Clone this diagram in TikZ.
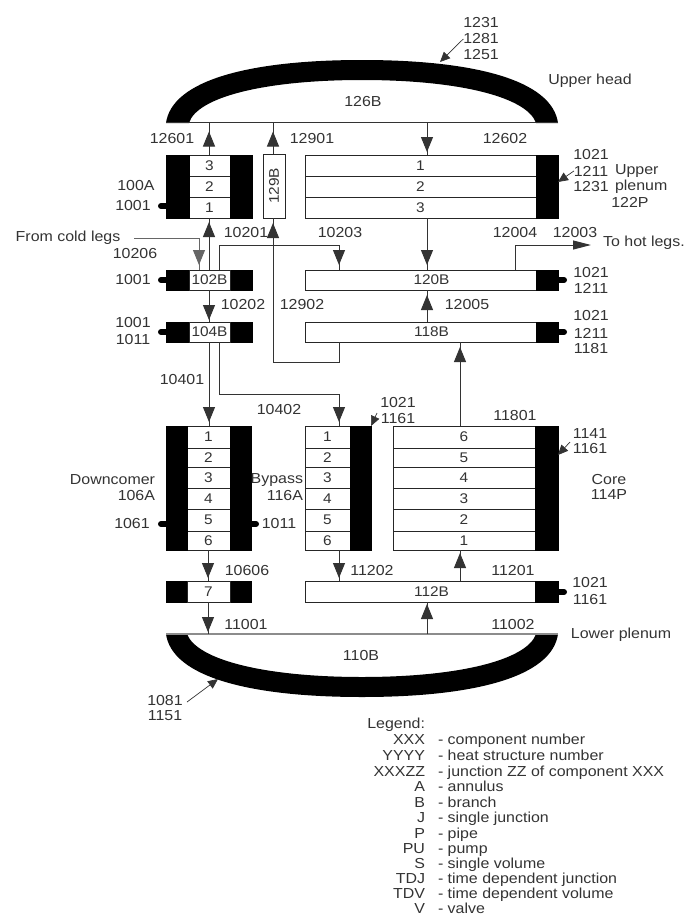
\documentclass[tikz,border=0pt]{standalone}
\usepackage{fontspec}
\setmainfont[FakeStretch=1.1]{Liberation Sans}
\usetikzlibrary{arrows.meta,decorations.markings}
\newcommand{\bx}[7]{%
  \pgfmathsetmacro\cxx{(#3+#5)/2}\pgfmathsetmacro\cyy{(#4+#6)/2}%
  \pgfmathsetmacro\ww{#5-#3}\pgfmathsetmacro\hh{#6-#4}%
  \node[#1,minimum width=\ww pt,minimum height=\hh pt] (#2) at (\cxx,\cyy) {#7};}
\tikzset{
  cell/.style={draw=black!85,line width=1pt,fill=white,inner sep=0pt,outer sep=0pt,font=\fontsize{14}{14}\selectfont,text=black!80},
  blk/.style={draw=black,fill=black,inner sep=0pt,outer sep=0pt,line width=0pt},
  lab/.style={inner sep=0pt,outer sep=0pt,font=\fontsize{14.5}{14.5}\selectfont,text=black!80},
  pipe/.style={draw=black!80,line width=1pt},
  flow/.style={pipe,postaction={decorate},decoration={markings,mark=at position #1 with {\arrow{Triangle[width=12pt,length=15pt]}}}},
  leader/.style={draw=black!80,line width=.7pt,-{Triangle[width=9pt,length=10pt]}},
  side/.style={draw=black,line width=6pt,line cap=round},
  head/.style={fill=black,draw=none},
}
\begin{document}
\begin{tikzpicture}[x=1pt,y=-1pt]
\useasboundingbox (0,0) rectangle (686,916);
% vessel heads
\fill[head] (166,123) .. controls (172,80) and (250,60) .. (362,60) .. controls (474,60) and (552,80) .. (558,123) -- (536,123) .. controls (527,97) and (459,80) .. (362,80) .. controls (265,80) and (197,97) .. (189,123) -- cycle;
\fill[head] (166,634) .. controls (172,677) and (250,697) .. (362,697) .. controls (474,697) and (552,677) .. (558,634) -- (536,634) .. controls (527,660) and (459,677) .. (362,677) .. controls (265,677) and (197,660) .. (187,634) -- cycle;
\coordinate (ltop) at (166,122.5);
\coordinate (rtop) at (558,122.5);
\coordinate (lbot) at (166,634);
\coordinate (rbot) at (558,634);
\draw[pipe] (ltop) -- (rtop);
\draw[draw=black!45,line width=1.6pt] (lbot) -- (rbot);
% channels
\coordinate (xa) at (209,0);
\coordinate (xc) at (273,0);
\coordinate (xd) at (339,0);
\coordinate (xe) at (427,0);
\coordinate (xf) at (460,0);
\coordinate (xg) at (515,0);
\coordinate (xi) at (208,0);
% 100A
\bx{cell}{a3}{189}{155}{230}{176}{3}
\bx{cell}{a2}{189}{176}{230}{197}{2}
\bx{cell}{a1}{189}{197}{230}{218}{1}
\bx{blk}{al}{166}{155}{189}{218}{}
\bx{blk}{ar}{230}{155}{252}{218}{}
% 129B
\bx{cell}{bb}{263}{154}{285}{218}{\rotatebox{90}{129B}}
% upper plenum
\bx{cell}{p1}{305}{155}{536}{176}{1}
\bx{cell}{p2}{305}{176}{536}{197}{2}
\bx{cell}{p3}{305}{197}{536}{218}{3}
\bx{blk}{pr}{536}{155}{558}{218}{}
% 102B 104B
\bx{blk}{cbl}{166}{270}{189}{290}{}
\bx{blk}{cbr}{230}{270}{252}{290}{}
\bx{cell}{c}{189}{270}{230}{290}{102B}
\bx{blk}{dl}{166}{322}{189}{342}{}
\bx{blk}{dr}{230}{322}{252}{342}{}
\bx{cell}{d}{189}{322}{230}{342}{104B}
% 120B 118B
\bx{cell}{e}{305}{270}{558}{290}{120B}
\bx{blk}{er}{536}{270}{558}{290}{}
\bx{cell}{f}{305}{322}{558}{342}{118B}
\bx{blk}{fr}{536}{322}{558}{342}{}
% downcomer
\bx{cell}{g1}{187}{426}{230}{448}{1}
\bx{cell}{g2}{187}{448}{230}{467}{2}
\bx{cell}{g3}{187}{467}{230}{488}{3}
\bx{cell}{g4}{187}{488}{230}{509}{4}
\bx{cell}{g5}{187}{509}{230}{531}{5}
\bx{cell}{g6}{187}{531}{230}{550}{6}
\bx{blk}{gl}{166}{426}{187}{550}{}
\bx{blk}{gr}{230}{426}{251}{550}{}
\bx{blk}{hl}{166}{581}{187}{602}{}
\bx{blk}{hr}{230}{581}{251}{602}{}
\bx{cell}{h}{187}{581}{230}{602}{7}
% bypass
\bx{cell}{i1}{305}{426}{350}{448}{1}
\bx{cell}{i2}{305}{448}{350}{467}{2}
\bx{cell}{i3}{305}{467}{350}{488}{3}
\bx{cell}{i4}{305}{488}{350}{509}{4}
\bx{cell}{i5}{305}{509}{350}{531}{5}
\bx{cell}{i6}{305}{531}{350}{550}{6}
\bx{blk}{ir}{350}{426}{371}{550}{}
% core
\bx{cell}{k6}{393}{426}{535}{448}{6}
\bx{cell}{k5}{393}{448}{535}{467}{5}
\bx{cell}{k4}{393}{467}{535}{488}{4}
\bx{cell}{k3}{393}{488}{535}{509}{3}
\bx{cell}{k2}{393}{509}{535}{531}{2}
\bx{cell}{k1}{393}{531}{535}{550}{1}
\bx{blk}{kr}{535}{426}{558}{550}{}
% 112B
\bx{cell}{m}{305}{581}{558}{602}{112B}
\bx{blk}{mr}{535}{581}{558}{602}{}
% flows
\draw[flow=-9pt] (a3.north -| xa) -- (ltop -| xa);
\draw[flow=-9pt] (bb.north -| xc) -- (ltop -| xc);
\draw[flow=-3pt] (ltop -| xe) -- (p1.north -| xe);
\draw[flow=-5pt] (p3.south -| xe) -- (e.north -| xe);
\draw[flow=-4pt] (c.north -| xa) -- (a1.south -| xa);
\draw[flow=-2pt] (c.south -| xa) -- (d.north -| xa);
\coordinate (rr1) at (273,362);
\coordinate (rr2) at (339,362);
\draw[flow=-5pt] (f.south -| rr2) -- (rr2) -- (rr1) -- (bb.south -| rr1);
\coordinate (rs1) at (219,245);
\coordinate (rs2) at (339,245);
\draw[flow=-5pt] (c.north -| rs1) -- (rs1) -- (rs2) -- (e.north -| rs2);
\coordinate (cold) at (134,238);
\coordinate (coldb) at (199,238);
\draw[flow=-5pt,draw=black!60] (cold) -- (coldb) -- (c.north -| coldb);
\draw[flow=-4pt] (d.south -| xa) -- (g1.north -| xa);
\coordinate (rt1) at (219,394);
\coordinate (rt2) at (339,394);
\draw[flow=-4pt] (d.south -| rt1) -- (rt1) -- (rt2) -- (i1.north -| rt2);
\draw[flow=-3pt] (g6.south -| xi) -- (h.north -| xi);
\draw[flow=-2pt] (h.south -| xi) -- (lbot -| xi);
\draw[flow=-3pt] (i6.south -| xd) -- (m.north -| xd);
\draw[flow=-3pt] (m.north -| xf) -- (k1.south -| xf);
\draw[flow=-2pt] (lbot -| xe) -- (m.south -| xe);
\draw[flow=-5pt] (k6.north -| xf) -- (f.south -| xf);
\draw[flow=-5pt] (f.north -| xe) -- (e.south -| xe);
\coordinate (hot) at (591,245);
\draw[pipe,-{Triangle[width=9pt,length=18pt]}] (e.north -| xg) |- (hot);
% labels
\newcommand{\lb}[3]{\node[lab] (#1) at (#2) {#3};}
\lb{t1}{481,23}{1231}\lb{t2}{481,39}{1281}\lb{t3}{481,55}{1251}
\lb{uh}{590,81}{Upper head}\lb{n126}{363,102}{126B}
\lb{j12601}{172,139}{12601}\lb{j12901}{312,139}{12901}\lb{j12602}{505,139}{12602}
\lb{n100}{136,186}{100A}\lb{h1001a}{133,206}{1001}
\lb{coldl}{68,238}{From cold legs}
\lb{j10201}{246,233}{10201}\lb{j10203}{340,233}{10203}\lb{j12004}{515,233}{12004}\lb{j12003}{575,233}{12003}
\lb{hotl}{644,243}{To hot legs.}
\lb{j10206}{135,254}{10206}\lb{h1001b}{133,280}{1001}
\lb{j10202}{243,305}{10202}\lb{j12902}{302,305}{12902}\lb{j12005}{467,305}{12005}
\lb{h1001c}{133,323}{1001}\lb{h1011c}{133,340}{1011}
\lb{r1}{591,155}{1021}\lb{r2}{591,171}{1211}\lb{r3}{591,187}{1231}
\node[lab,anchor=west] (up1) at (615,171) {Upper};
\node[lab,anchor=west] (up2) at (615,187) {plenum};
\lb{up3}{630,202}{122P}
\lb{r4}{591,273}{1021}\lb{r5}{591,288}{1211}
\lb{r6}{591,316}{1021}\lb{r7}{591,333}{1211}\lb{r8}{591,349}{1181}
\lb{j10401}{182,380}{10401}\lb{j10402}{279,410}{10402}
\lb{by1}{398,403}{1021}\lb{by2}{398,419}{1161}\lb{j11801}{515,416}{11801}
\lb{co1}{590,434}{1141}\lb{co2}{590,449}{1161}
\lb{co3}{609,480}{Core}\lb{co4}{609,495}{114P}
\node[lab,anchor=east] (dc1) at (155,480) {Downcomer};
\node[lab,anchor=east] (dc2) at (155,496) {106A};
\node[lab,anchor=east] (by3) at (303,480) {Bypass};
\node[lab,anchor=east] (by4) at (303,496) {116A};
\lb{h1061}{132,524}{1061}\lb{h1011}{279,524}{1011}
\lb{j10606}{247,571}{10606}\lb{j11202}{372,571}{11202}\lb{j11201}{513,571}{11201}
\lb{r9}{590,583}{1021}\lb{r10}{590,600}{1161}
\lb{j11001}{246,624}{11001}\lb{j11002}{513,624}{11002}
\lb{lp}{621,635}{Lower plenum}\lb{n110}{361,655}{110B}
\lb{b1}{165,700}{1081}\lb{b2}{165,716}{1151}
% leaders
\coordinate (hdtop) at (440,62);
\coordinate (hdbot) at (218,679);
\coordinate (ldby) at (377,413);
\coordinate (ldco) at (570,442);
\coordinate (ldlo) at (187,702);
\draw[leader] (t2.west) -- (hdtop);
\draw[leader] (r2.west) -- (pr.east |- 0,182);
\draw[leader] (ldby) -- (ir.north east);
\draw[leader] (ldco) -- (kr.east |- 0,455);
\draw[leader] (ldlo) -- (hdbot);
% side markers
\draw[side] (al.west |- h1001a) -- ++(-5,0);
\draw[side] (cbl.west |- h1001b) -- ++(-5,0);
\draw[side] (dl.west |- 0,332) -- ++(-5,0);
\draw[side] (gl.west |- h1061) -- ++(-5,0);
\draw[side] (gr.east |- h1011) -- ++(5,0);
\draw[side] (er.east |- 0,280) -- ++(6,0);
\draw[side] (fr.east |- 0,332) -- ++(6,0);
\draw[side] (mr.east |- 0,592) -- ++(6,0);
% legend
\foreach \nm/\yy/\a/\b in {q0/728/Legend:/,q1/744/XXX/component number,q2/760/YYYY/heat structure number,q3/776/XXXZZ/junction ZZ of component XXX,q4/791/A/annulus,q5/807/B/branch,q6/822/J/single junction,q7/838/P/pipe,q8/853/PU/pump,q9/868/S/single volume,q10/883/TDJ/time dependent junction,q11/898/TDV/time dependent volume,q12/913/V/valve}{
  \node[lab,anchor=base east] (\nm) at (425,\yy) {\a};
  \ifx\b\empty\else\node[lab,anchor=base west] (\nm d) at (438,\yy) {- \b};\fi
}
\end{tikzpicture}
\end{document}
